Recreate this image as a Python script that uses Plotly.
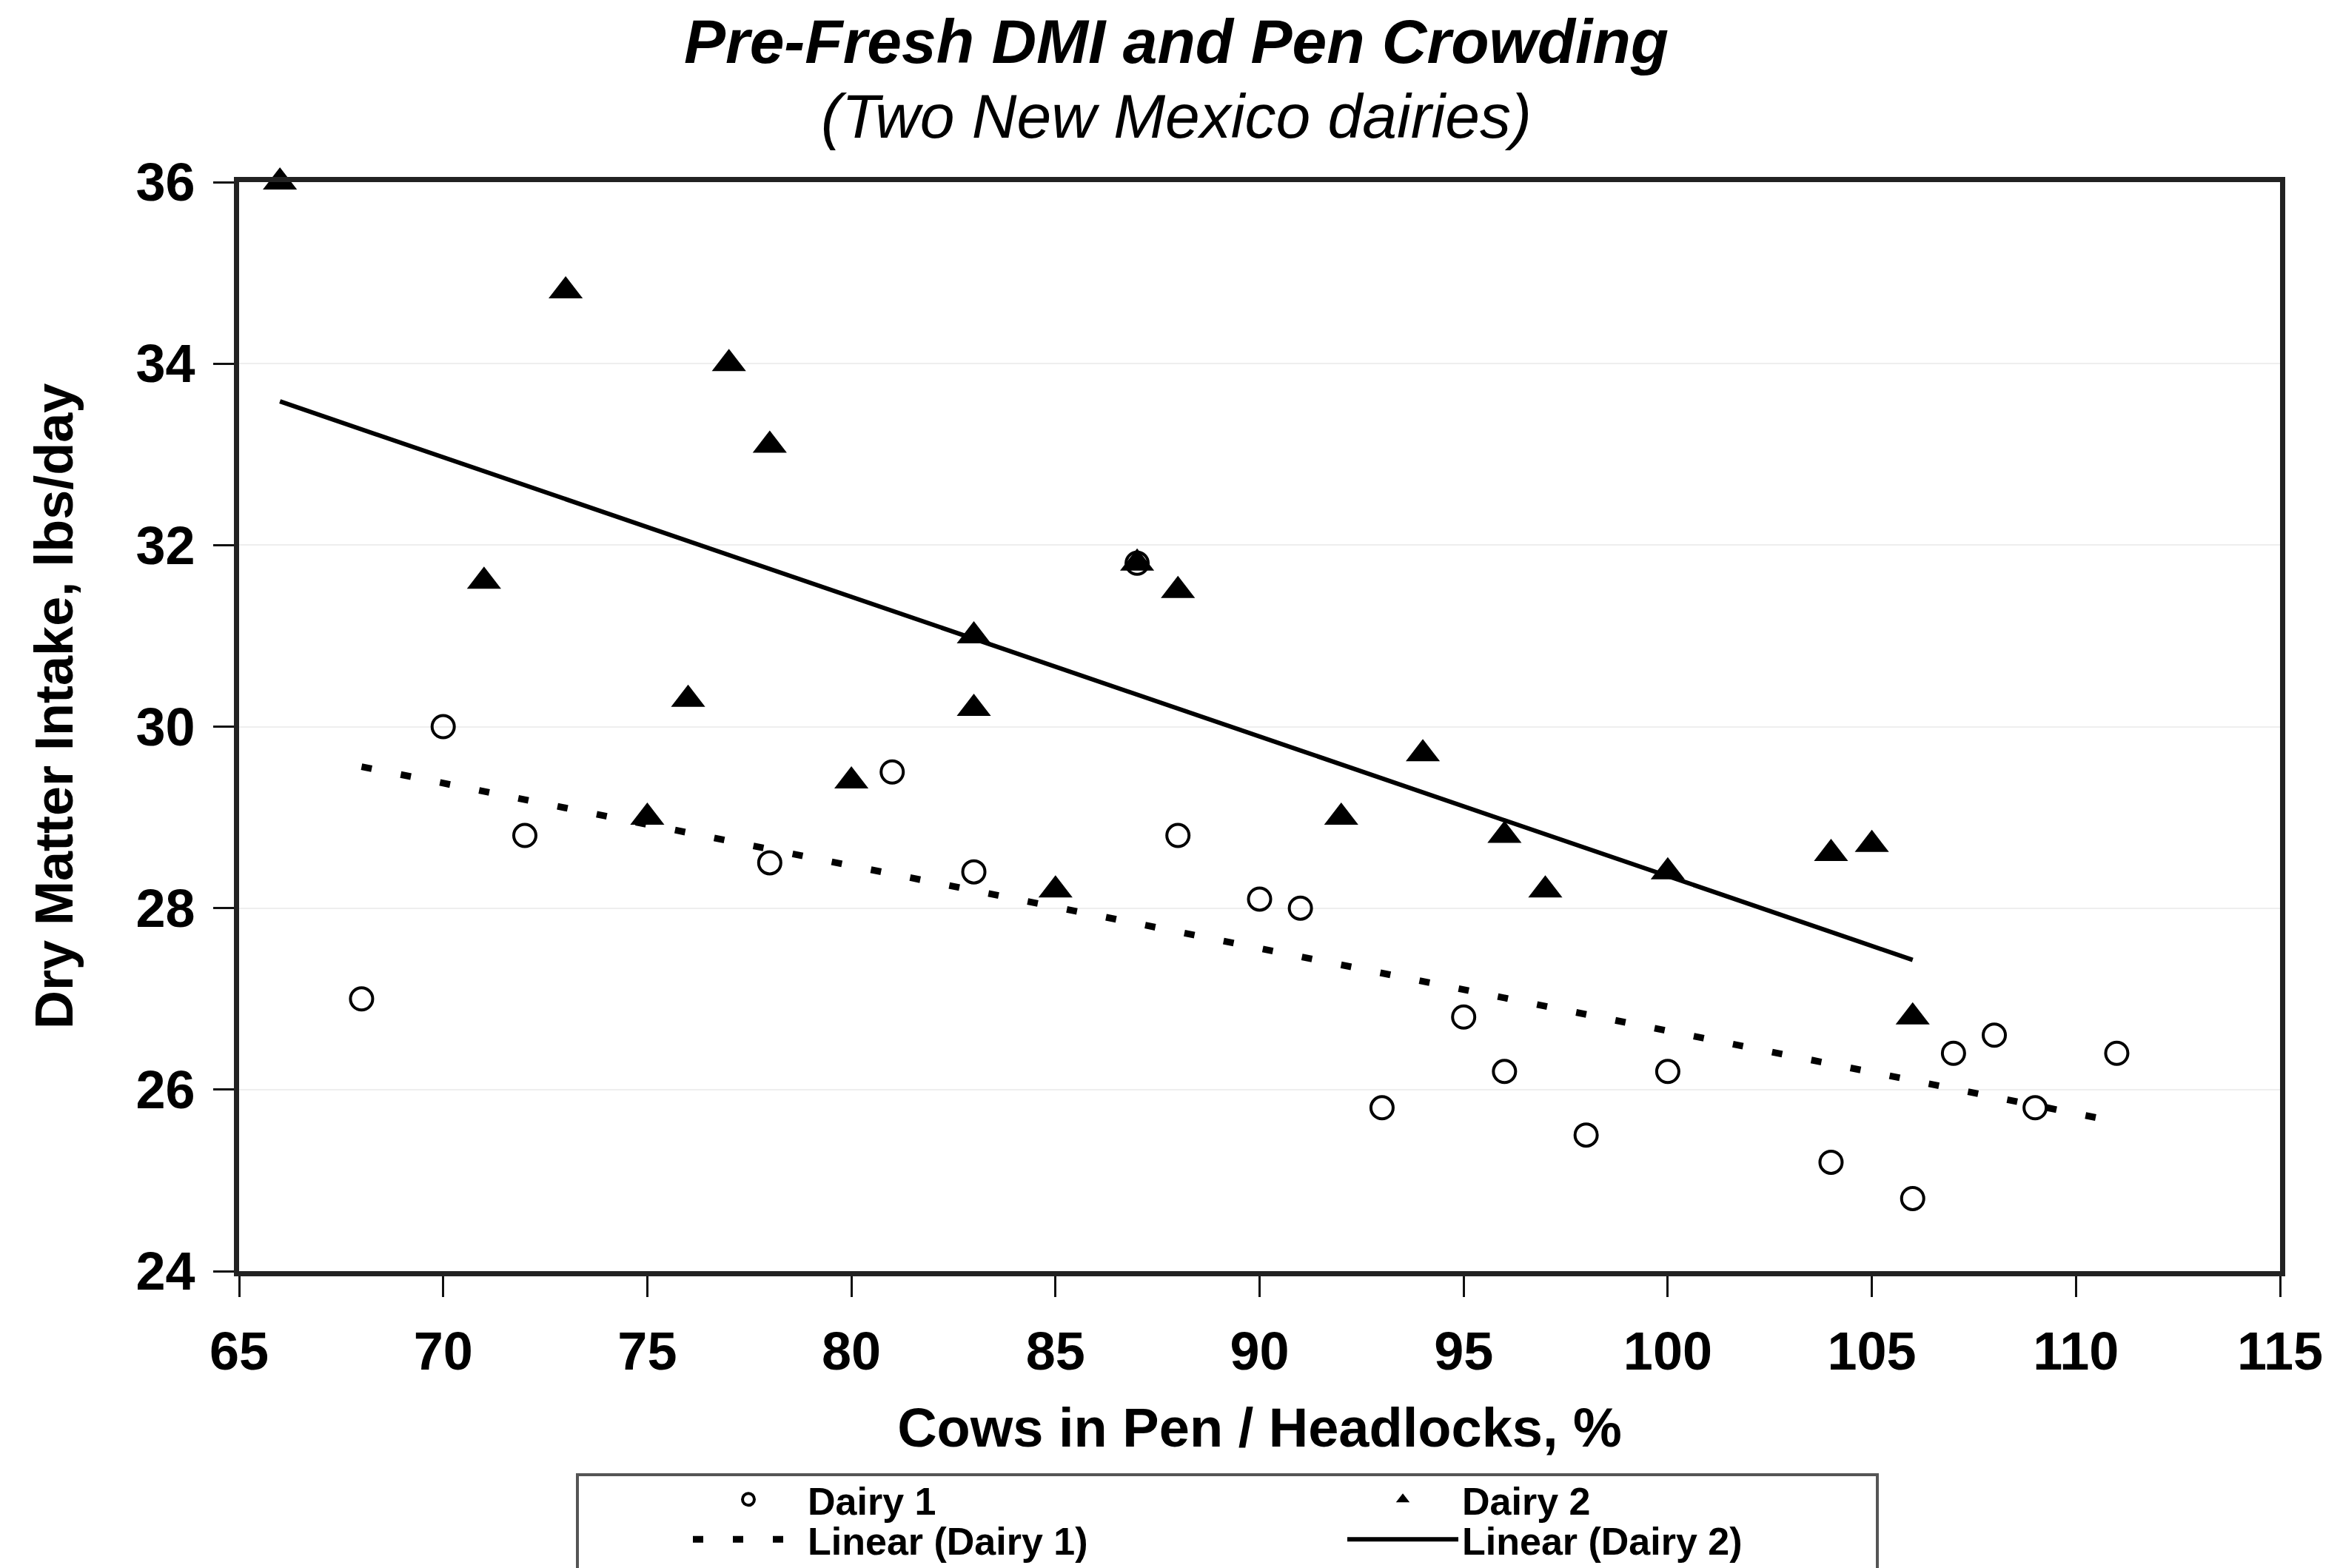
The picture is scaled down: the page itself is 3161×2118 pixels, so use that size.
import numpy as np
import plotly.graph_objects as go

# ---- data ----
dairy1_x = [68, 70, 72, 78, 81, 83, 87, 88, 90, 91, 93, 95, 96, 98, 100, 104, 106, 107, 108, 109, 111]
dairy1_y = [27.0, 30.0, 28.8, 28.5, 29.5, 28.4, 31.8, 28.8, 28.1, 28.0, 25.8, 26.8, 26.2, 25.5, 26.2, 25.2, 24.8, 26.4, 26.6, 25.8, 26.4]

dairy2_x = [66, 71, 73, 75, 76, 77, 78, 80, 83, 83, 85, 87, 88, 92, 94, 96, 97, 100, 104, 105, 106]
dairy2_y = [36.0, 31.6, 34.8, 29.0, 30.3, 34.0, 33.1, 29.4, 31.0, 30.2, 28.2, 31.8, 31.5, 29.0, 29.7, 28.8, 28.2, 28.4, 28.6, 28.7, 26.8]

x_ticks = [65, 70, 75, 80, 85, 90, 95, 100, 105, 110, 115]
y_ticks = [24, 26, 28, 30, 32, 34, 36]

title_text = "Pre-Fresh DMI and Pen Crowding"
subtitle_text = "(Two New Mexico dairies)"
x_title = "Cows in Pen / Headlocks, %"
y_title = "Dry Matter Intake, lbs/day"


def linear_fit(xs, ys):
    xs = np.asarray(xs, float)
    ys = np.asarray(ys, float)
    m, b = np.polyfit(xs, ys, 1)
    xe = np.array([xs.min(), xs.max()])
    return xe, m * xe + b


t1x, t1y = linear_fit(dairy1_x, dairy1_y)
t2x, t2y = linear_fit(dairy2_x, dairy2_y)

FONT = "Liberation Sans, Arial, Helvetica, sans-serif"
W, H = 3161, 2118
OFF = 8  # page body margin of the browser
# plot area in screenshot pixels
PL, PR, PT, PB = 323, 3080, 246, 1717
L = PL - OFF
T = PT - OFF
R = W - (PR - OFF)
B = H - (PB - OFF)
PW, PH = W - L - R, H - T - B


def px_x(px):  # screenshot px -> paper x
    return (px - OFF - L) / PW


def px_y(py):  # screenshot px -> paper y
    return (H - B - (py - OFF)) / PH


fig = go.Figure()

fig.add_trace(go.Scatter(
    x=dairy1_x, y=dairy1_y, mode="markers", name="Dairy 1", legend="legend",
    marker=dict(symbol="circle-open", size=30, color="black", line=dict(width=4, color="black")),
    cliponaxis=False,
))
fig.add_trace(go.Scatter(
    x=dairy2_x, y=dairy2_y, mode="markers", name="Dairy 2", legend="legend2",
    marker=dict(symbol="triangle-up", size=40, color="black", line=dict(width=0)),
    cliponaxis=False,
))
fig.add_trace(go.Scatter(
    x=t1x, y=t1y, mode="lines", name="Linear (Dairy 1)", legend="legend3",
    line=dict(color="black", width=9, dash="14px,40px"),
))
fig.add_trace(go.Scatter(
    x=t2x, y=t2y, mode="lines", name="Linear (Dairy 2)", legend="legend4",
    line=dict(color="black", width=6),
))

axis_common = dict(
    showline=True, linecolor="#222222", linewidth=7, mirror=True,
    ticks="outside", ticklen=28, tickwidth=3, tickcolor="#111111",
    zeroline=False,
)

fig.update_xaxes(
    range=[65, 115], tickvals=x_ticks, ticktext=["<b>%d</b>" % v for v in x_ticks],
    showgrid=False,
    tickfont=dict(family=FONT, size=72, color="black"),
    ticklabelstandoff=12,
    title=dict(text="<b>" + x_title + "</b>", font=dict(family=FONT, size=74, color="black"), standoff=40),
    **axis_common,
)
fig.update_yaxes(
    range=[24, 36], tickvals=y_ticks, ticktext=["<b>%d</b>" % v for v in y_ticks],
    showgrid=True, gridcolor="#eeeeee", gridwidth=2,
    tickfont=dict(family=FONT, size=72, color="black"),
    ticklabelstandoff=10,
    **axis_common,
)

legend_common = dict(
    orientation="v", bgcolor="rgba(0,0,0,0)", borderwidth=0,
    font=dict(family=FONT, size=52, color="black", weight="bold"),
    itemwidth=150, xanchor="left", yanchor="top", tracegroupgap=0,
)
LEG1_X, LEG2_X = 1083 - 160 + OFF, 1967 - 160 + OFF
ROW1_TOP, ROW2_TOP = 1977 + OFF, 2031 + OFF

fig.update_layout(
    width=W, height=H,
    margin=dict(l=L, r=R, t=T, b=B, autoexpand=False),
    paper_bgcolor="white", plot_bgcolor="white",
    font=dict(family=FONT, color="black"),
    title=dict(
        text="<b><i>" + title_text + "</i></b>", xref="container", yref="container",
        x=(1589 - OFF) / W, xanchor="center", y=1 - (56 - OFF) / H, yanchor="middle",
        font=dict(family=FONT, size=84, color="black"),
    ),
    legend=dict(x=px_x(LEG1_X), y=px_y(ROW1_TOP), **legend_common),
    legend2=dict(x=px_x(LEG2_X), y=px_y(ROW1_TOP), **legend_common),
    legend3=dict(x=px_x(LEG1_X), y=px_y(ROW2_TOP), **legend_common),
    legend4=dict(x=px_x(LEG2_X), y=px_y(ROW2_TOP), **legend_common),
    annotations=[
        dict(
            text="<i>" + subtitle_text + "</i>", xref="paper", yref="paper",
            x=px_x(1589), y=px_y(157), xanchor="center", yanchor="middle",
            showarrow=False, font=dict(family=FONT, size=84, color="black"),
        ),
        dict(
            text="<b>" + y_title + "</b>", xref="paper", yref="paper",
            x=px_x(73), y=px_y(954), xanchor="center", yanchor="middle",
            textangle=-90, showarrow=False,
            font=dict(family=FONT, size=72, color="black"),
        ),
    ],
    shapes=[dict(
        type="rect", xref="paper", yref="paper",
        x0=px_x(780), x1=px_x(2536),
        y0=px_y(1992), y1=px_y(2135),
        line=dict(color="#555555", width=4), fillcolor="rgba(0,0,0,0)", layer="below",
    )],
    showlegend=True,
)

fig.write_html("out.html")
